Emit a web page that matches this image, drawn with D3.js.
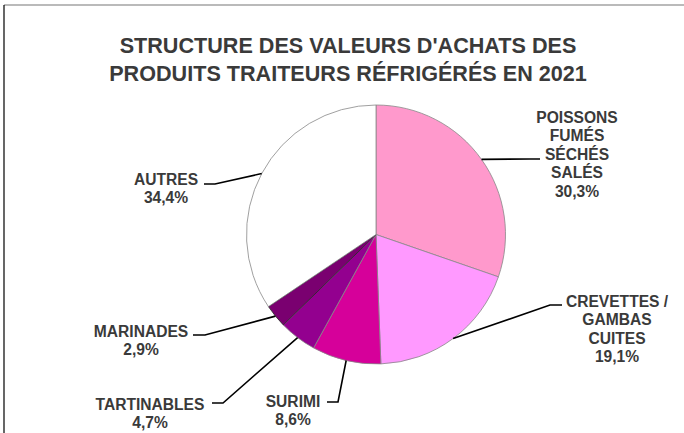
<!DOCTYPE html>
<html><head><meta charset="utf-8">
<script src="https://cdn.jsdelivr.net/npm/d3@7"></script>
<style>body{margin:0;background:#fff}svg{display:block}</style>
</head><body>
<svg id="c" width="684" height="433"></svg>
<script>
const titleLines = ["STRUCTURE DES VALEURS D'ACHATS DES", "PRODUITS TRAITEURS RÉFRIGÉRÉS EN 2021"];
const categories = ["POISSONS FUMÉS SÉCHÉS SALÉS", "CREVETTES / GAMBAS CUITES", "SURIMI", "TARTINABLES", "MARINADES", "AUTRES"];
const labelLines = [["POISSONS","FUMÉS","SÉCHÉS","SALÉS"],["CREVETTES /","GAMBAS","CUITES"],["SURIMI"],["TARTINABLES"],["MARINADES"],["AUTRES"]];
const values = [30.3, 19.1, 8.6, 4.7, 2.9, 34.4];
const percentLabels = ["30,3%", "19,1%", "8,6%", "4,7%", "2,9%", "34,4%"];
const colors = ["#FF99CC", "#FF99FF", "#D6009A", "#93008F", "#7A0070", "#FFFFFF"];
// layout: label centre x, first line centre y, leader elbow, leader end
const labelLayout = [
  {x:577, y:117, elbow:[530,159], end:[540,159]},
  {x:617, y:301, elbow:[550,305], end:[562,305]},
  {x:293, y:401, elbow:[338,402], end:[327,402]},
  {x:150, y:404, elbow:[223,403], end:[212,403]},
  {x:141, y:331, elbow:[205,335], end:[193,335]},
  {x:166, y:179, elbow:[215,184], end:[204,184]}
];

const svg = d3.select("#c");
// frame (top + left lines only visible)
svg.append("line").attr("x1",4).attr("x2",684).attr("y1",5).attr("y2",5).attr("stroke","#777").attr("stroke-width",1.2);
svg.append("line").attr("x1",4).attr("x2",4).attr("y1",5).attr("y2",433).attr("stroke","#000").attr("stroke-width",1.2);

svg.selectAll("text.title").data(titleLines).enter().append("text")
  .attr("class","title")
  .attr("x",348).attr("y",(d,i)=>45.5+i*28)
  .attr("text-anchor","middle").attr("dominant-baseline","central")
  .attr("font-family","'Liberation Sans', Arial, sans-serif").attr("font-weight","bold")
  .attr("font-size",21.6).attr("fill","#3a3a3a")
  .text(d=>d);

const cx = 376, cy = 234.5, r = 129.5;
const pie = d3.pie().sort(null).value(d=>d).startAngle(0).endAngle(2*Math.PI);
const arcs = pie(values);
const arc = d3.arc().innerRadius(0).outerRadius(r);
const g = svg.append("g").attr("transform",`translate(${cx},${cy})`);
g.selectAll("path").data(arcs).enter().append("path")
  .attr("d",arc).attr("fill",(d,i)=>colors[i])
  .attr("stroke",(d,i)=>i===4?"#222":"#888").attr("stroke-width",0.8);

// leader lines
arcs.forEach((a,i)=>{
  const m = (a.startAngle+a.endAngle)/2;
  const sx = cx + r*Math.sin(m), sy = cy - r*Math.cos(m);
  const L = labelLayout[i];
  svg.append("polyline")
    .attr("points",[[sx,sy],L.elbow,L.end].map(p=>p.join(",")).join(" "))
    .attr("fill","none").attr("stroke","#000").attr("stroke-width",1.6);
});

// labels
const lineH = 18.6;
labelLayout.forEach((L,i)=>{
  const lines = labelLines[i].concat([percentLabels[i]]);
  const t = svg.append("text").attr("text-anchor","middle")
    .attr("font-family","'Liberation Sans', Arial, sans-serif").attr("font-weight","bold")
    .attr("font-size",15.6).attr("fill","#3a3a3a");
  lines.forEach((s,j)=>{
    t.append("tspan").attr("x",L.x).attr("y",L.y+j*lineH).attr("dominant-baseline","central").text(s);
  });
});
</script>
</body></html>
